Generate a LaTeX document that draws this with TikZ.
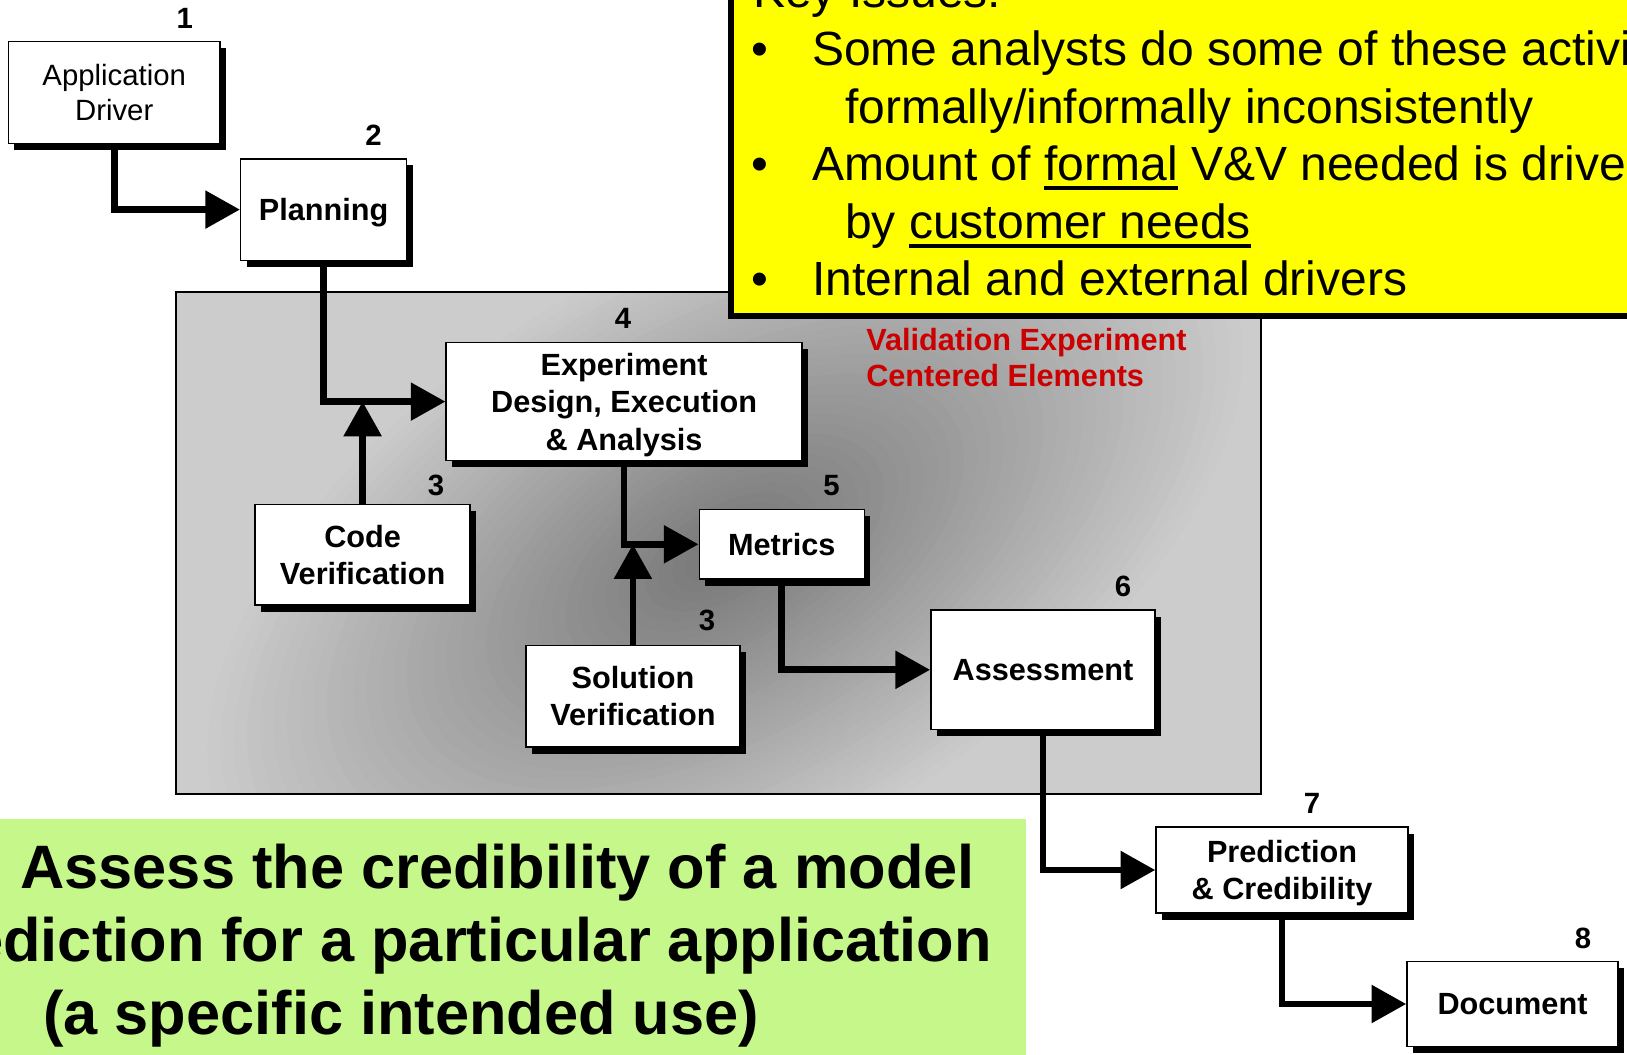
\documentclass[tikz,border=0pt]{standalone}
\usepackage{fontspec}
\setmainfont{Liberation Sans}
\usepackage{xcolor}
\usepackage{tikz}
\usetikzlibrary{arrows.meta, shadows}

\definecolor{keyyellow}{RGB}{255,255,0}
\definecolor{goalgreen}{RGB}{197,247,138}
\definecolor{valred}{RGB}{204,0,0}

\newcommand{\keyline}[1]{\setbox0\hbox{#1}\rlap{\rule[-6.9pt]{\wd0}{3pt}}\box0\relax}

\begin{document}
\begin{tikzpicture}[x=0.75pt, y=-0.75pt,
    box/.style={draw=black, line width=1.1pt, fill=white, inner sep=0pt, align=center, text depth=0pt,
        font=\bfseries\fontsize{23}{28}\selectfont,
        drop shadow={shadow xshift=4.5pt, shadow yshift=-5pt, fill=black, opacity=1}},
    num/.style={inner sep=0pt, font=\bfseries\fontsize{22}{26}\selectfont},
    flow/.style={line width=5pt, -{Triangle[length=26pt, width=27.5pt]}},
    keytext/.style={anchor=base west, inner sep=0pt, font=\fontsize{36}{43.2}\selectfont},
    goaltext/.style={inner sep=0pt, font=\bfseries\fontsize{46}{55}\selectfont},
    redtext/.style={anchor=base west, inner sep=0pt, text=valred, font=\bfseries\fontsize{23}{27.6}\selectfont}]
    \useasboundingbox (0,0) rectangle (1627,1055);
    \begin{scope}
        \clip (0,0) rectangle (1627,1055);

        % validation region
        \fill[black!20] (176,292) rectangle (1261,794);
        \begin{scope}
            \clip (176,292) rectangle (1261,794);
            \foreach \i [evaluate=\i as \rx using 440*(1-\i/40),
                         evaluate=\i as \ry using 230*(1-\i/40),
                         evaluate=\i as \g using 20+34*\i/40] in {0,...,39}
                \fill[black!\g, rotate around={30:(725,552)}] (725,552) ellipse ({\rx pt} and {\ry pt});
        \end{scope}
        \draw[line width=1.1pt] (176,292) rectangle (1261,794);
        \node[redtext] (val1) at (866,351) {Validation Experiment};
        \node[redtext] (val2) at (866,387) {Centered Elements};

        % key issues
        \draw[line width=4.5pt, fill=keyyellow] (731,-20) rectangle (1660,316);
        \node[keytext] (key0) at (753,8) {Key Issues:};
        \node[keytext] (b1) at (751,65.6) {•};
        \node[keytext] (key1) at (812,65.6) {Some analysts do some of these activi};
        \node[keytext] (key2) at (845,123.2) {formally/informally inconsistently};
        \node[keytext] (b2) at (751,180.8) {•};
        \node[keytext] (key3) at (812,180.8) {Amount of \keyline{formal} V\&V needed is drive};
        \node[keytext] (key4) at (845,238.4) {by \keyline{customer needs}};
        \node[keytext] (b3) at (751,296) {•};
        \node[keytext] (key5) at (812,296) {Internal and external drivers};

        % goal
        \fill[goalgreen] (-20,819) rectangle (1026,1080);
        \node[goaltext, anchor=base east] (goal1) at (975,888) {: Assess the credibility of a model};
        \node[goaltext, anchor=base east] (goal2) at (992,961) {ediction for a particular application};
        \node[goaltext, anchor=base west] (goal3) at (43,1034) {(a specific intended use)};

        % boxes
        \node[box, minimum width=158.8pt, minimum height=76.3pt, font=\fontsize{22}{26.5}\selectfont] (app) at (114.2,92.4) {Application\\Driver};
        \node[box, minimum width=124.5pt, minimum height=76.2pt] (plan) at (323.7,209.6) {Planning};
        \node[box, minimum width=266.9pt, minimum height=88.7pt] (exp) at (624.1,401.6) {Experiment\\Design, Execution\\\& Analysis};
        \node[box, minimum width=161.1pt, minimum height=75.5pt] (code) at (362.6,554.7) {Code\\Verification};
        \node[box, minimum width=123.8pt, minimum height=52.1pt] (metrics) at (781.8,544.3) {Metrics};
        \node[box, minimum width=160.4pt, minimum height=76.2pt] (sol) at (632.9,696.2) {Solution\\Verification};
        \node[box, minimum width=168.2pt, minimum height=89.5pt] (assess) at (1043,669.8) {Assessment};
        \node[box, minimum width=189pt, minimum height=64.5pt] (pred) at (1282,870) {Prediction\\\& Credibility};
        \node[box, minimum width=158.3pt, minimum height=64.1pt] (doc) at (1512.5,1004) {Document};

        % step numbers
        \node[num] (n1) at (184.7,18.7) {1};
        \node[num] (n2) at (373.5,134.9) {2};
        \node[num] (n3a) at (436,485) {3};
        \node[num] (n4) at (623,318.5) {4};
        \node[num] (n5) at (831.5,485.6) {5};
        \node[num] (n3b) at (707,620.5) {3};
        \node[num] (n6) at (1123,586.5) {6};
        \node[num] (n7) at (1312,803.5) {7};
        \node[num] (n8) at (1583,938) {8};

        \draw[flow] (app.south) |- (plan.west); % app-plan
        \draw[flow] (plan.south) |- (exp.west); % plan-exp
        \draw[flow] (code.north) -- (code.north |- exp.west); % code-join
        \draw[flow] (exp.south) |- (metrics.west); % exp-metrics
        \draw[flow] (sol.north) -- (sol.north |- metrics.west); % sol-join
        \draw[flow] (metrics.south) |- (assess.west); % metrics-assess
        \draw[flow] (assess.south) |- (pred.west); % assess-pred
        \draw[flow] (pred.south) |- (doc.west); % pred-doc
    \end{scope}
\end{tikzpicture}
\end{document}
